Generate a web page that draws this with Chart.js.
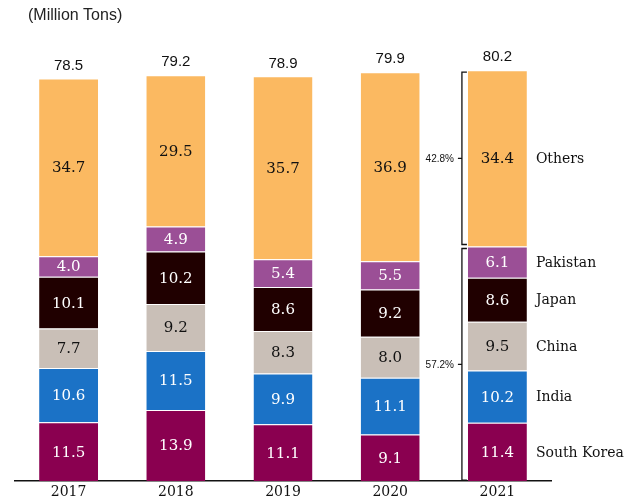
<!DOCTYPE html>
<html>
<head>
<meta charset="utf-8">
<script src="https://cdn.jsdelivr.net/npm/chart.js@4"></script>
<style>
  html, body { margin: 0; padding: 0; background: #fff; }
  #wrap { width: 636px; height: 504px; }
</style>
</head>
<body>
<div id="wrap"><canvas id="barChart" width="636" height="504"></canvas></div>
<script>
// data
const years = ['2017', '2018', '2019', '2020', '2021'];
const southKorea = [11.5, 13.9, 11.1, 9.1, 11.4];
const india = [10.6, 11.5, 9.9, 11.1, 10.2];
const china = [7.7, 9.2, 8.3, 8.0, 9.5];
const japan = [10.1, 10.2, 8.6, 9.2, 8.6];
const pakistan = [4.0, 4.9, 5.4, 5.5, 6.1];
const others = [34.7, 29.5, 35.7, 36.9, 34.4];
const totals = [78.5, 79.2, 78.9, 79.9, 80.2];
const shareLabels = ['57.2%', '42.8%'];

const serif = '"DejaVu Serif", serif';
const sans = '"Liberation Sans", Arial, sans-serif';

function ds(label, data, color, textColor) {
    return {
        label: label,
        data: data,
        backgroundColor: color,
        borderColor: 'rgba(255,255,255,0.6)',
        borderWidth: { top: 1 },
        borderSkipped: false,
        barPercentage: 0.55,
        categoryPercentage: 1.0,
        textColor: textColor
    };
}

// labels inside segments, totals, right-hand names, brackets
const labelsPlugin = {
    id: 'labels',
    afterDatasetsDraw(chart) {
        const ctx = chart.ctx;
        const yScale = chart.scales.y;
        ctx.save();
        ctx.textAlign = 'center';
        ctx.textBaseline = 'middle';

        chart.data.datasets.forEach((d, i) => {
            const meta = chart.getDatasetMeta(i);
            meta.data.forEach((bar, j) => {
                ctx.font = '15px ' + serif;
                ctx.fillStyle = d.textColor;
                ctx.fillText(d.data[j].toFixed(1), bar.x, (bar.y + bar.base) / 2 + 1);
            });
        });

        // totals
        const topMeta = chart.getDatasetMeta(chart.data.datasets.length - 1);
        ctx.font = '15px ' + sans;
        ctx.fillStyle = '#111';
        topMeta.data.forEach((bar, j) => {
            ctx.fillText(totals[j].toFixed(1), bar.x, bar.y - 13);
        });

        // names next to last bar
        const last = years.length - 1;
        ctx.textAlign = 'left';
        ctx.font = '14px ' + serif;
        ctx.fillStyle = '#111';
        chart.data.datasets.forEach((d, i) => {
            const bar = chart.getDatasetMeta(i).data[last];
            ctx.fillText(d.label, bar.x + bar.width / 2 + 9, (bar.y + bar.base) / 2 + 1);
        });

        // brackets
        const lastBar = topMeta.data[last];
        const bx = lastBar.x - lastBar.width / 2 - 6;
        const lowSum = southKorea[last] + india[last] + china[last] + japan[last] + pakistan[last];
        const groups = [
            [yScale.getPixelForValue(0) - 1, yScale.getPixelForValue(lowSum) + 2],
            [yScale.getPixelForValue(lowSum) - 2, lastBar.y + 2]
        ];
        ctx.strokeStyle = '#111';
        ctx.lineWidth = 1.3;
        ctx.font = '10px ' + sans;
        ctx.textAlign = 'right';
        groups.forEach((g, k) => {
            const y0 = g[0], y1 = g[1];
            const mid = (y0 + y1) / 2;
            ctx.beginPath();
            ctx.moveTo(bx + 5, y0);
            ctx.lineTo(bx, y0);
            ctx.lineTo(bx, y1);
            ctx.lineTo(bx + 5, y1);
            ctx.moveTo(bx, mid);
            ctx.lineTo(bx - 4, mid);
            ctx.stroke();
            ctx.fillText(shareLabels[k], bx - 8, mid + 1);
        });

        // unit title
        ctx.textAlign = 'left';
        ctx.font = '16px ' + sans;
        ctx.fillStyle = '#222';
        ctx.fillText('(Million Tons)', 28, 16);
        ctx.restore();
    }
};

const ctxBar = document.getElementById('barChart').getContext('2d');
const barChart = new Chart(ctxBar, {
    type: 'bar',
    data: {
        labels: years,
        datasets: [
            ds('South Korea', southKorea, '#8a0050', '#ffffff'),
            ds('India', india, '#1b72c6', '#ffffff'),
            ds('China', china, '#c9bfb7', '#111111'),
            ds('Japan', japan, '#200000', '#ffffff'),
            ds('Pakistan', pakistan, '#9b4f96', '#ffffff'),
            ds('Others', others, '#fbb961', '#111111')
        ]
    },
    options: {
        responsive: false,
        animation: false,
        layout: { padding: { left: 15, right: 85, top: 20, bottom: 0 } },
        plugins: {
            legend: { display: false },
            tooltip: { enabled: false }
        },
        scales: {
            x: {
                stacked: true,
                grid: { display: false, drawTicks: false },
                border: { display: true, color: '#111', width: 1.5 },
                ticks: { color: '#111', font: { family: serif, size: 14 }, padding: 3 }
            },
            y: {
                stacked: true,
                display: false,
                min: 0,
                max: 90
            }
        }
    },
    plugins: [labelsPlugin]
});
</script>
</body>
</html>
